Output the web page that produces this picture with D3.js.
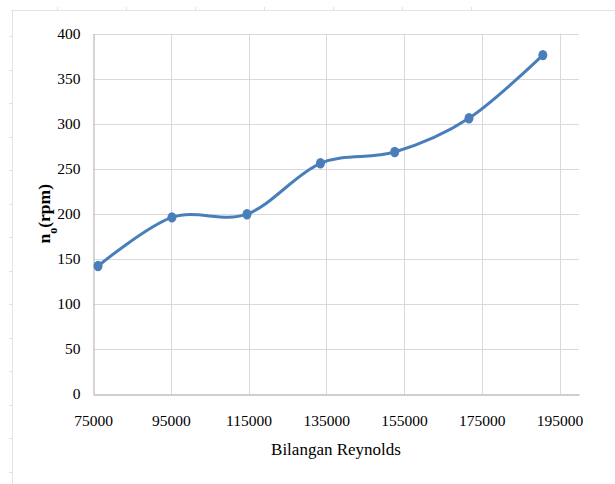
<!DOCTYPE html>
<html>
<head>
<meta charset="utf-8">
<script src="https://cdn.jsdelivr.net/npm/d3@7"></script>
<style>
  body { margin: 0; background: #fff; }
  svg { display: block; }
</style>
</head>
<body>
<div id="chart"></div>
<script>
// data
var reynolds = [76300, 95300, 114600, 133500, 152600, 171700, 190700];
var rpm = [142, 196, 199.5, 256, 268.5, 306, 376];
var xTicks = [75000, 95000, 115000, 135000, 155000, 175000, 195000];
var yTicks = [0, 50, 100, 150, 200, 250, 300, 350, 400];

var width = 615, height = 484;
var margin = {left: 93, top: 33.5, right: 36, bottom: 90};
var serif = "'Liberation Serif', 'Times New Roman', serif";

var svg = d3.select("#chart").append("svg")
  .attr("width", width)
  .attr("height", height);

/* faint page frame with ruler marks */
var frame = svg.append("g").attr("stroke", "#e3e3e3").attr("fill", "none");
frame.append("line").attr("x1", 11).attr("x2", width).attr("y1", 10.5).attr("y2", 10.5);
frame.append("line").attr("x1", 12.5).attr("x2", 12.5).attr("y1", 10).attr("y2", height);
frame.selectAll(".tt").data(d3.range(57, 480, 69)).enter().append("line")
  .attr("x1", d => d + 0.5).attr("x2", d => d + 0.5).attr("y1", 7).attr("y2", 10);
frame.selectAll(".tl").data(d3.range(36, 480, 33.5)).enter().append("line")
  .attr("x1", 9).attr("x2", 12).attr("y1", d => Math.round(d) + 0.5).attr("y2", d => Math.round(d) + 0.5);

/* scales */
var x = d3.scaleLinear()
  .domain([75000, 200000])
  .range([margin.left, width - margin.right]);
var y = d3.scaleLinear()
  .domain([0, 400])
  .range([height - margin.bottom, margin.top]);

var g = svg.append("g");

// gridlines
g.selectAll(".hgrid").data(yTicks.slice(1)).enter().append("line")
  .attr("x1", x.range()[0]).attr("x2", x.range()[1])
  .attr("y1", d => Math.round(y(d)) + 0.5).attr("y2", d => Math.round(y(d)) + 0.5)
  .attr("stroke", "#d9d9d9").attr("stroke-width", 1);
g.selectAll(".vgrid").data(xTicks.slice(1)).enter().append("line")
  .attr("x1", d => Math.round(x(d)) + 0.5).attr("x2", d => Math.round(x(d)) + 0.5)
  .attr("y1", y(0)).attr("y2", y(400))
  .attr("stroke", "#d9d9d9").attr("stroke-width", 1);

/* axes */
var xAxis = d3.axisBottom(x).tickValues(xTicks).tickSize(0).tickPadding(20).tickFormat(d3.format("d"));
var yAxis = d3.axisLeft(y).tickValues(yTicks).tickSize(0).tickPadding(13);

var gx = svg.append("g")
  .attr("transform", `translate(0, ${Math.round(y(0)) + 0.5})`)
  .call(xAxis);
var gy = svg.append("g")
  .attr("transform", `translate(${Math.round(x(75000)) + 0.5}, 0)`)
  .call(yAxis);

[gx, gy].forEach(function(a) {
  a.select(".domain").attr("stroke", "#bfbfbf").attr("stroke-width", 1.3);
  a.selectAll("text")
    .attr("fill", "#000")
    .style("font-family", serif)
    .style("font-size", "15.5px");
});

// axis titles
svg.append("text")
  .attr("x", (x.range()[0] + x.range()[1]) / 2)
  .attr("y", 455)
  .attr("text-anchor", "middle")
  .style("font-family", serif)
  .style("font-size", "17px")
  .text("Bilangan Reynolds");

var yt = svg.append("text")
  .attr("transform", `translate(50, ${(y(0) + y(400)) / 2}) rotate(-90)`)
  .attr("text-anchor", "middle")
  .style("font-family", serif)
  .style("font-size", "17.5px")
  .style("font-weight", "bold");
yt.append("tspan").text("n");
yt.append("tspan").attr("baseline-shift", "sub").style("font-size", "12px").text("o");
yt.append("tspan").text("(rpm)");

/* smooth line and markers */
var pts = reynolds.map((r, i) => ({r: r, n: rpm[i]}));

var line = d3.line()
  .x(d => x(d.r))
  .y(d => y(d.n))
  .curve(d3.curveCardinal.tension(0));

svg.append("path")
  .datum(pts)
  .attr("d", line)
  .attr("fill", "none")
  .attr("stroke", "#4a7ebb")
  .attr("stroke-width", 3)
  .attr("stroke-linecap", "round");

svg.selectAll(".pt").data(pts).enter().append("ellipse")
  .attr("cx", d => x(d.r))
  .attr("cy", d => y(d.n))
  .attr("rx", 4.5)
  .attr("ry", 5.2)
  .attr("fill", "#4a7ebb");
</script>
</body>
</html>
